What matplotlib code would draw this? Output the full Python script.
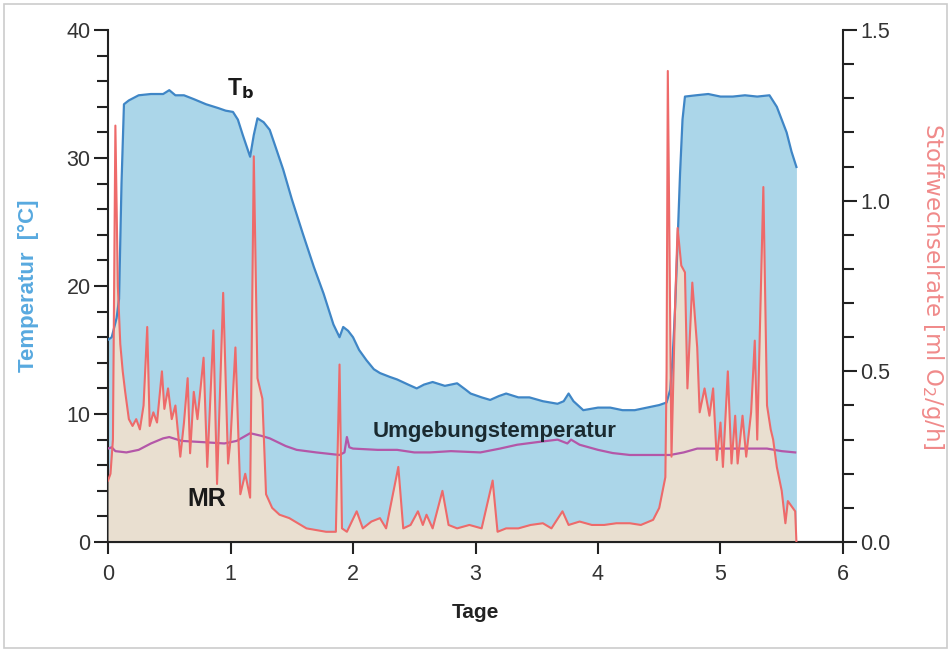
import matplotlib
matplotlib.use("Agg")
import matplotlib.pyplot as plt
from matplotlib.patches import Rectangle
from matplotlib.ticker import MultipleLocator

plt.rcParams['font.family'] = ['Liberation Sans', 'DejaVu Sans']

# Koerpertemperatur Tb (Tage, °C)
tb_day = [0.00, 0.03, 0.07, 0.09, 0.11, 0.13, 0.17, 0.25, 0.35, 0.45, 0.50, 0.55,
          0.62, 0.70, 0.80, 0.90, 0.96, 1.02, 1.06, 1.10, 1.16, 1.19, 1.22, 1.27,
          1.32, 1.37, 1.43, 1.50, 1.59, 1.68, 1.76, 1.84, 1.89, 1.92, 1.96, 2.00,
          2.05, 2.11, 2.17, 2.22, 2.30, 2.36, 2.45, 2.52, 2.58, 2.65, 2.75, 2.85,
          2.92, 2.96, 3.05, 3.12, 3.19, 3.25, 3.35, 3.44, 3.55, 3.67, 3.72, 3.76,
          3.80, 3.88, 4.00, 4.10, 4.20, 4.30, 4.40, 4.50, 4.56, 4.59, 4.61, 4.63,
          4.65, 4.67, 4.69, 4.71, 4.80, 4.90, 5.00, 5.10, 5.20, 5.30, 5.40, 5.46,
          5.50, 5.54, 5.58, 5.62]
tb_temp = [15.8, 16.0, 17.5, 19.0, 28.0, 34.2, 34.5, 34.9, 35.0, 35.0, 35.3, 34.9,
           34.9, 34.6, 34.2, 33.9, 33.7, 33.6, 33.0, 31.8, 30.1, 31.8, 33.1, 32.8,
           32.2, 30.8, 29.1, 26.8, 24.1, 21.5, 19.4, 17.0, 16.0, 16.8, 16.5, 16.0,
           15.0, 14.2, 13.5, 13.2, 12.9, 12.7, 12.3, 12.0, 12.3, 12.5, 12.2, 12.4,
           11.9, 11.6, 11.3, 11.1, 11.4, 11.6, 11.3, 11.3, 11.0, 10.8, 11.0, 11.6,
           11.0, 10.3, 10.5, 10.5, 10.3, 10.3, 10.5, 10.7, 10.9, 11.9, 14.5, 18.4,
           23.5, 28.8, 33.0, 34.8, 34.9, 35.0, 34.8, 34.8, 34.9, 34.8, 34.9, 34.0,
           33.0, 32.0, 30.5, 29.3]

# Umgebungstemperatur (Tage, °C)
amb_day = [0.00, 0.03, 0.06, 0.15, 0.25, 0.35, 0.45, 0.50, 0.60, 0.78, 0.95, 1.05,
           1.16, 1.25, 1.32, 1.45, 1.54, 1.70, 1.89, 1.93, 1.95, 1.97, 2.00, 2.20,
           2.36, 2.50, 2.63, 2.80, 3.04, 3.20, 3.34, 3.50, 3.67, 3.75, 3.78, 3.85,
           4.00, 4.12, 4.26, 4.45, 4.59, 4.70, 4.81, 5.00, 5.20, 5.38, 5.50, 5.61]
amb_temp = [7.3, 7.4, 7.1, 7.0, 7.2, 7.7, 8.1, 8.2, 7.9, 7.8, 7.7, 7.9,
            8.5, 8.3, 8.1, 7.5, 7.2, 7.0, 6.8, 7.0, 8.2, 7.4, 7.3, 7.2,
            7.2, 7.0, 7.0, 7.1, 7.0, 7.3, 7.6, 7.8, 8.0, 7.7, 8.0, 7.6,
            7.2, 6.95, 6.8, 6.8, 6.8, 7.0, 7.3, 7.3, 7.3, 7.3, 7.1, 7.0]

# Stoffwechselrate MR (Tage, ml O2/g/h)
mr_day = [0.00, 0.02, 0.04, 0.06, 0.08, 0.10, 0.12, 0.14, 0.17, 0.20, 0.23, 0.26,
          0.29, 0.32, 0.34, 0.37, 0.40, 0.44, 0.46, 0.49, 0.52, 0.55, 0.59, 0.62,
          0.65, 0.67, 0.70, 0.73, 0.78, 0.81, 0.86, 0.89, 0.94, 0.98, 1.00, 1.04,
          1.08, 1.12, 1.16, 1.19, 1.22, 1.26, 1.29, 1.34, 1.40, 1.48, 1.55, 1.62,
          1.70, 1.78, 1.86, 1.89, 1.91, 1.95, 2.03, 2.08, 2.15, 2.22, 2.27, 2.37,
          2.41, 2.47, 2.53, 2.57, 2.60, 2.65, 2.73, 2.78, 2.85, 2.95, 3.05, 3.14,
          3.18, 3.25, 3.35, 3.45, 3.55, 3.62, 3.71, 3.76, 3.85, 3.95, 4.05, 4.15,
          4.26, 4.35, 4.45, 4.50, 4.55, 4.56, 4.57, 4.60, 4.63, 4.65, 4.68, 4.71,
          4.73, 4.77, 4.81, 4.83, 4.87, 4.91, 4.94, 4.97, 5.00, 5.02, 5.06, 5.09,
          5.12, 5.14, 5.18, 5.21, 5.25, 5.28, 5.30, 5.35, 5.38, 5.41, 5.43, 5.46,
          5.50, 5.53, 5.55, 5.61, 5.62]
mr_rate = [0.18, 0.20, 0.30, 1.22, 0.75, 0.58, 0.50, 0.44, 0.36, 0.34, 0.36, 0.33,
           0.40, 0.63, 0.34, 0.38, 0.35, 0.50, 0.39, 0.45, 0.36, 0.40, 0.25, 0.35,
           0.48, 0.26, 0.44, 0.36, 0.54, 0.22, 0.62, 0.17, 0.73, 0.23, 0.30, 0.57,
           0.14, 0.20, 0.13, 1.13, 0.48, 0.42, 0.14, 0.10, 0.08, 0.07, 0.055, 0.04,
           0.035, 0.03, 0.03, 0.52, 0.04, 0.03, 0.09, 0.04, 0.06, 0.07, 0.04, 0.22,
           0.04, 0.05, 0.09, 0.05, 0.08, 0.04, 0.15, 0.05, 0.04, 0.05, 0.04, 0.18,
           0.03, 0.04, 0.04, 0.05, 0.055, 0.04, 0.09, 0.05, 0.06, 0.05, 0.05, 0.055,
           0.055, 0.05, 0.065, 0.10, 0.19, 0.50, 1.38, 0.25, 0.70, 0.92, 0.81, 0.79,
           0.45, 0.76, 0.57, 0.38, 0.45, 0.37, 0.45, 0.24, 0.35, 0.22, 0.50, 0.23,
           0.37, 0.23, 0.37, 0.25, 0.38, 0.59, 0.30, 1.04, 0.40, 0.33, 0.30, 0.22,
           0.15, 0.055, 0.12, 0.09, 0.00]

x_ticks = [0, 1, 2, 3, 4, 5, 6]

fig = plt.figure(figsize=(9.51, 6.51), dpi=100)
ax1 = fig.add_axes([0.1136, 0.1674, 0.7728, 0.7865])
ax2 = ax1.twinx()

# Tb-Flaeche (linke Achse)
ax1.fill_between(tb_day, tb_temp, 0, color='#abd6e9', lw=0, zorder=1)

# MR-Flaeche darueber (rechte Achse), Linien obendrauf
ax2.fill_between(mr_day, mr_rate, 0, color='#e9dfd0', lw=0, zorder=1)
ax2.plot(tb_day, tb_temp, color='#3f86c6', lw=1.6, zorder=2, transform=ax1.transData)
ax2.plot(amb_day, amb_temp, color='#b457a8', lw=1.6, zorder=3, transform=ax1.transData)
ax2.plot(mr_day, mr_rate, color='#ee6a6a', lw=1.5, zorder=4)

ax1.set_xlim(0, 6)
ax1.set_ylim(0, 40)
ax2.set_ylim(0, 1.5)
ax1.set_xticks(x_ticks)
ax1.yaxis.set_major_locator(MultipleLocator(10))
ax1.yaxis.set_minor_locator(MultipleLocator(2))
ax2.yaxis.set_major_locator(MultipleLocator(0.5))
ax2.yaxis.set_minor_locator(MultipleLocator(0.1))
ax2.yaxis.set_major_formatter(plt.FormatStrFormatter('%.1f'))

for ax in (ax1, ax2):
    ax.spines['top'].set_visible(False)
    for s in ('left', 'right', 'bottom'):
        ax.spines[s].set_color('#222222')
        ax.spines[s].set_linewidth(1.5)
    ax.tick_params(which='major', direction='out', length=10, width=1.5, pad=2.5,
                   color='#222222', labelsize=15.5, labelcolor='#333333')
    ax.tick_params(which='minor', direction='out', length=8, width=1.5, color='#222222')
ax1.tick_params(axis='x', length=8.5, pad=7)
ax2.spines['left'].set_visible(False)
ax1.spines['right'].set_visible(False)

ax1.set_xlabel('Tage', fontsize=15, fontweight='bold', color='#222222', labelpad=13)
ax1.set_ylabel('Temperatur  [°C]', fontsize=16, fontweight='bold', color='#58a9df',
               labelpad=20)
ax2.set_ylabel('Stoffwechselrate [ml O$_2$/g/h]', fontsize=16.5, color='#f08a8a',
               rotation=270, labelpad=40, family='DejaVu Sans')

ax1.text(1.08, 34.9, 'T$_\\mathbf{b}$', fontsize=16.5, fontweight='bold', color='#1a1a1a',
         ha='center', va='baseline', zorder=10)
ax2.text(3.155, 8.2, 'Umgebungstemperatur', fontsize=16, fontweight='bold',
         color='#1a2a30', ha='center', va='baseline', transform=ax1.transData, zorder=10)
ax2.text(0.81, 3.36, 'MR', fontsize=18, fontweight='bold', color='#1a1a1a',
         ha='center', va='center', transform=ax1.transData, zorder=10)

fig.patches.append(Rectangle((0.004, 0.004), 0.992, 0.99, transform=fig.transFigure,
                             fill=False, edgecolor='#cccccc', lw=1.2))

fig.savefig('out.png', dpi=100)
